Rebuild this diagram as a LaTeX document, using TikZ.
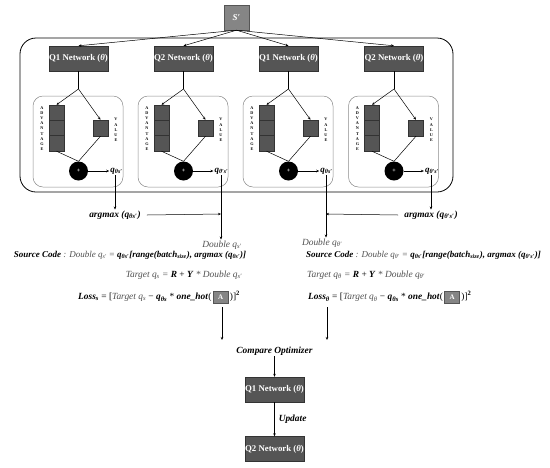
\documentclass[tikz,border=0pt]{standalone}
\usepackage{fontspec}
\setmainfont{Liberation Serif}
\usetikzlibrary{arrows.meta,calc}
\definecolor{netfill}{HTML}{555555}
\definecolor{netdraw}{HTML}{333333}
\definecolor{sfill}{HTML}{858585}
\definecolor{innerdraw}{HTML}{8A8A8A}
\definecolor{txtgray}{HTML}{505050}
\newcommand{\bi}[1]{\textbf{\textit{#1}}}
\newcommand{\gi}[1]{\textcolor{txtgray}{\textit{#1}}}
\newcommand{\sbs}[1]{\textsubscript{#1}}
\newcommand{\Abox}{\tikz[baseline=-2.8pt]\node[fill=sfill,draw=netfill,text=white,minimum width=15pt,minimum height=12pt,inner sep=0pt,font=\fontsize{7}{6}\selectfont\bfseries]{A};}
\tikzset{
  netbox/.style={draw=netdraw, fill=netfill, minimum width=59pt, minimum height=25pt, inner sep=0pt, text=white, font=\fontsize{8.8}{9}\selectfont\bfseries},
  sbox/.style={draw=netfill, fill=sfill, minimum width=25pt, minimum height=25pt, inner sep=0pt, text=white, font=\fontsize{9}{9}\selectfont\bfseries\itshape},
  advbox/.style={draw=netdraw, fill=netfill, minimum width=15pt, minimum height=46pt, inner sep=0pt},
  valbox/.style={draw=netdraw, fill=netfill, minimum width=15pt, minimum height=16pt, inner sep=0pt},
  plus/.style={circle, fill=black, minimum size=19pt, inner sep=0pt, text=white, font=\fontsize{6}{6}\selectfont\bfseries},
  vlabel/.style={align=center, font=\fontsize{4.2}{5.2}\selectfont\bfseries, inner sep=0pt},
  qlab/.style={font=\fontsize{9}{9}\selectfont\bfseries\itshape, inner sep=1pt},
  eq/.style={font=\fontsize{9.4}{10}\selectfont, inner sep=1pt},
  srceq/.style={font=\fontsize{9}{10}\selectfont, inner sep=1pt},
  arr/.style={-{Stealth[length=3pt,width=2.5pt]}, line width=0.5pt},
  ln/.style={line width=0.5pt},
  innerbox/.style={draw=innerdraw, rounded corners=10pt, line width=0.5pt},
}
\begin{document}
\begin{tikzpicture}[x=1pt,y=-1pt]
\useasboundingbox (0,0) rectangle (550,467);
% outer box
\draw[rounded corners=16pt, line width=0.8pt] (20,38) rectangle (453,192);
\node[sbox] (S) at (236.5,17.5) {S′};
\foreach \i/\cx/\net/\q in {1/78.5/Q1/{θs′}, 2/183.5/Q2/{θ′s′}, 3/288.5/Q1/{θs′}, 4/394/Q2/{θ′s′}}{
  \node[netbox] (net\i) at (\cx,58.5) {\net\ Network (\textit{θ})};
  \draw[arr] (S.south) -- (net\i.north);
  \draw[innerbox] (\cx-45.5,96) rectangle (\cx+44.5,187);
  \coordinate (split\i) at (\cx,89);
  \node[advbox] (adv\i) at (\cx-22,128) {};
  \draw[netdraw, line width=0.5pt] (\cx-29.5,120.33) -- (\cx-14.5,120.33) (\cx-29.5,135.67) -- (\cx-14.5,135.67);
  \node[valbox] (val\i) at (\cx+22,128) {};
  \node[vlabel] (advl\i) at (\cx-36.5,128.5) {A\\D\\V\\A\\N\\T\\A\\G\\E};
  \node[vlabel] (vall\i) at (\cx+37.5,130) {V\\A\\L\\U\\E};
  \node[plus] (plus\i) at (\cx,171) {+};
  \node[qlab] (q\i) at (\cx+38,171) {q\sbs{\q}};
  \draw[ln] (net\i.south) -- (split\i);
  \draw[arr] (split\i) -- (adv\i.north);
  \draw[arr] (split\i) -- (val\i.north);
  \draw[ln] (adv\i.south) -- (plus\i.north);
  \draw[ln] (val\i.south) -- (plus\i.north);
  \draw[arr] (plus\i.east) -- (q\i.west);
}
% argmax / double nodes
\node[eq] (am1) at (115,215) {\bi{argmax (q\sbs{θs′})}};
\node[eq] (am2) at (431,215) {\bi{argmax (q\sbs{θ′s′})}};
\node[eq] (db1) at (222,245) {\gi{Double q\sbs{s′}}};
\node[eq] (db2) at (322,243) {\gi{Double q\sbs{θ′}}};
\draw[arr] (q1.south -| am1) -- (am1.north);
\draw[arr] (q4.south -| am2) -- (am2.north);
\draw[arr] (q2.south -| 221,0) -- (db1.north -| 221,0);
\draw[arr] (q3.south -| 326,0) -- (db2.north -| 326,0);
\coordinate (j2) at (221,214);
\coordinate (j3) at (326,214);
\draw[arr] (am1.east) ++(5,0) -- (j2);
\draw[arr] (am2.west) ++(-5,0) -- (j3);
% equations left
\node[srceq] (src1) at (130,255) {\bi{Source Code} \gi{: Double q\sbs{s′} =} \bi{q\sbs{θs′}[range(batch\sbs{size}), argmax (q\sbs{θs′})]}};
\node[eq] (tg1) at (184,275) {\gi{Target q\sbs{s} =} \bi{R} + \bi{Y} \gi{* Double q\sbs{s′}}};
\node[eq, anchor=west] (ls1) at (77,297) {\bi{Loss\sbs{s}} = [\gi{Target q\sbs{s}} − \bi{q\sbs{θs}} * \bi{one\_hot}(\,\Abox\,)]\textsuperscript{\textbf{2}}};
% equations right
\node[srceq, anchor=west] (src2) at (305,255) {\bi{Source Code} \gi{: Double q\sbs{θ′} =} \bi{q\sbs{θs′}[range(batch\sbs{size}), argmax (q\sbs{θ′s′})]}};
\node[eq, anchor=west] (tg2) at (306,275) {\gi{Target q\sbs{θ} =} \bi{R} + \bi{Y} \gi{* Double q\sbs{θ′}}};
\node[eq, anchor=west] (ls2) at (307,297) {\bi{Loss\sbs{θ}} = [\gi{Target q\sbs{θ}} − \bi{q\sbs{θs}} * \bi{one\_hot}(\,\Abox\,)]\textsuperscript{\textbf{2}}};
\coordinate (d1) at (222,307);
\coordinate (e1) at (222,340);
\coordinate (d2) at (327,307);
\coordinate (e2) at (327,340);
\draw[arr] (d1) -- (e1);
\draw[arr] (d2) -- (e2);
% bottom
\node[eq] (cmp) at (274.5,351) {\bi{Compare Optimizer}};
\node[netbox] (n5) at (274.5,389.5) {Q1 Network (\textit{θ})};
\node[netbox] (n6) at (274.5,449) {Q2 Network (\textit{θ})};
\draw[arr] (cmp.south) -- (n5.north);
\draw[arr] (n5.south) -- node[eq, right, xshift=3pt] (upd) {\bi{Update}} (n6.north);
\end{tikzpicture}
\end{document}
